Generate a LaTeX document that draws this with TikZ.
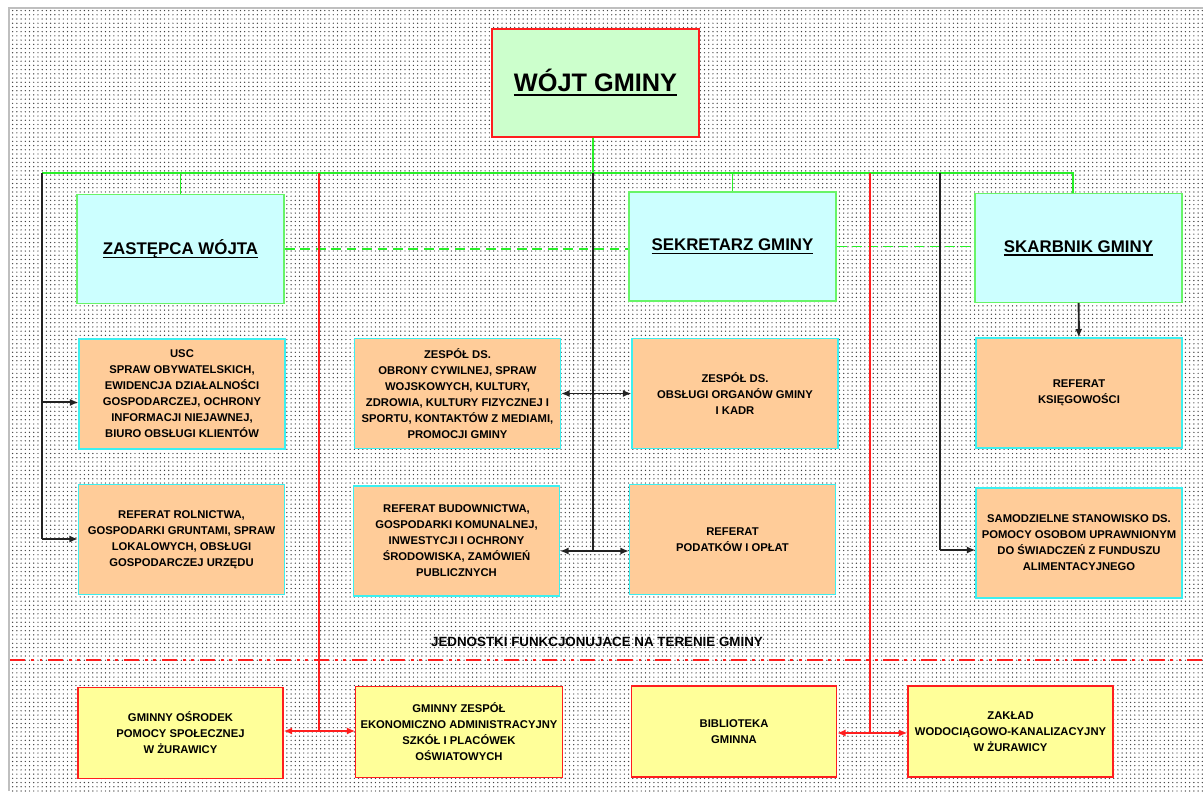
\documentclass[tikz,border=0pt]{standalone}
\usepackage{fontspec}
\setmainfont{Liberation Sans}
\usepackage{tikz}
\usepackage{xcolor}
\usetikzlibrary{shapes, positioning, patterns, arrows.meta}

\definecolor{treegreen}{RGB}{40,240,40}
\definecolor{headcyan}{RGB}{204,255,255}
\definecolor{wojtgreen}{RGB}{204,255,204}
\definecolor{unitorange}{RGB}{255,204,153}
\definecolor{unitedge}{RGB}{60,240,240}
\definecolor{extyellow}{RGB}{255,255,153}
\definecolor{linered}{RGB}{255,30,30}
\definecolor{darkline}{RGB}{34,34,34}

\newcommand{\headul}[3]{\setbox0\hbox{#1}\leavevmode\rlap{\copy0}\rule[-#2]{\wd0}{#3}}

\begin{document}
\begin{tikzpicture}[x=0.025cm, y=-0.025cm,
        head/.style={rectangle, draw=treegreen!70!white, fill=headcyan, line width=1pt,
            minimum width=5.175cm, minimum height=2.725cm, font=\bfseries\fontsize{12}{14}\selectfont},
        unit/.style={rectangle, draw=unitedge, fill=unitorange, line width=0.8pt, align=center,
            minimum width=5.15cm, minimum height=2.75cm, font=\bfseries\fontsize{8}{11.4}\selectfont},
        ext/.style={rectangle, draw=linered, fill=extyellow, line width=0.8pt, align=center,
            minimum width=5.125cm, minimum height=2.275cm, font=\bfseries\fontsize{8}{11.4}\selectfont},
        tree/.style={treegreen, line width=1.1pt},
        blk/.style={darkline, line width=1.4pt, >={Latex[length=6pt, width=5pt]}},
        redl/.style={linered, line width=1.4pt, >={Latex[length=6pt, width=5pt]}}]
        \useasboundingbox (0,0) rectangle (1203,791);
        % dotted sheet
        \fill[pattern=dots, pattern color=black!75] (10,9) rectangle (1203,791);
        \draw[black!25, line width=0.8pt] (9,791) -- (9,8) -- (1203,8);

        \node[rectangle, draw=linered, fill=wojtgreen, line width=0.9pt, minimum width=5.175cm,
            minimum height=2.7cm, font=\bfseries\fontsize{18}{20}\selectfont] (wojt) at (595.5, 83)
            {\headul{WÓJT GMINY}{3.2pt}{1.6pt}};

        \node[head] (zast) at (180.5, 249) {\headul{ZASTĘPCA WÓJTA}{2.6pt}{1.2pt}};
        \node[head] (sekr) at (732.5, 246.5) {\headul{SEKRETARZ GMINY}{2.6pt}{1.2pt}};
        \node[head] (skarb) at (1078.5, 248) {\headul{SKARBNIK GMINY}{2.6pt}{1.2pt}};

        \node[unit] (usc) at (182, 394) {USC\\SPRAW OBYWATELSKICH,\\EWIDENCJA DZIAŁALNOŚCI\\GOSPODARCZEJ, OCHRONY\\INFORMACJI NIEJAWNEJ,\\BIURO OBSŁUGI KLIENTÓW};
        \node[unit] (roln) at (181.5, 539.5) {REFERAT ROLNICTWA,\\GOSPODARKI GRUNTAMI, SPRAW\\LOKALOWYCH, OBSŁUGI\\GOSPODARCZEJ URZĘDU};
        \node[unit] (obrona) at (457.5, 393.5) {ZESPÓŁ DS.\\OBRONY CYWILNEJ, SPRAW\\WOJSKOWYCH, KULTURY,\\ZDROWIA, KULTURY FIZYCZNEJ I\\SPORTU, KONTAKTÓW Z MEDIAMI,\\PROMOCJI GMINY};
        \node[unit] (budown) at (456.5, 541) {REFERAT BUDOWNICTWA,\\GOSPODARKI KOMUNALNEJ,\\INWESTYCJI I OCHRONY\\ŚRODOWISKA, ZAMÓWIEŃ\\PUBLICZNYCH};
        \node[unit] (obsluga) at (735, 393.5) {ZESPÓŁ DS.\\OBSŁUGI ORGANÓW GMINY\\I KADR};
        \node[unit] (podatki) at (732.5, 539.5) {REFERAT\\PODATKÓW I OPŁAT};
        \node[unit] (ksieg) at (1079, 393) {REFERAT\\KSIĘGOWOŚCI};
        \node[unit] (samodz) at (1079, 543) {SAMODZIELNE STANOWISKO DS.\\POMOCY OSOBOM UPRAWNIONYM\\DO ŚWIADCZEŃ Z FUNDUSZU\\ALIMENTACYJNEGO};

        \node[ext] (gops) at (180.5, 733) {GMINNY OŚRODEK\\POMOCY SPOŁECZNEJ\\W ŻURAWICY};
        \node[ext] (gzeas) at (459, 732) {GMINNY ZESPÓŁ\\EKONOMICZNO ADMINISTRACYJNY\\SZKÓŁ I PLACÓWEK\\OŚWIATOWYCH};
        \node[ext] (biblio) at (734, 731.5) {BIBLIOTEKA\\GMINNA};
        \node[ext] (zaklad) at (1010.5, 731.5) {ZAKŁAD\\WODOCIĄGOWO-KANALIZACYJNY\\W ŻURAWICY};

        \node[font=\bfseries\fontsize{9.5}{11}\selectfont] (jednostki) at (597, 642) {JEDNOSTKI FUNKCJONUJACE NA TERENIE GMINY};
        \draw[linered, line width=1.3pt, dash pattern=on 11pt off 4pt on 2pt off 4pt on 2pt off 4pt] (10,660) -- (1203,660);

        \coordinate (busL) at (42, 173);
        \coordinate (busR) at (1073, 173);
        \coordinate (jl) at (42, 539);
        \coordinate (jc) at (593, 551);
        \coordinate (jr) at (940, 550);
        \coordinate (rl) at (319, 731);
        \coordinate (rr) at (870, 733);

        % green tree
        \draw[tree] (jc |- wojt.south) -- (jc |- busL)
            (busL) -- (busR) -- (busR |- skarb.north)
            (zast.north |- busL) -- (zast.north)
            (sekr.north |- busL) -- (sekr.north);
        \draw[tree, line width=1.3pt, dash pattern=on 7pt off 4pt] (zast.east) -- (zast.east -| sekr.west)
            (sekr.east) -- (sekr.east -| skarb.west);

        % black links
        \draw[blk] (busL) -- (jl)
            (jc |- busL) -- (jc)
            (jr |- busL) -- (jr);
        \draw[blk, ->] (jl) -- (jl -| roln.west);
        \draw[blk, ->] ([yshift=-6pt]busL |- usc.west) -- ([yshift=-6pt]usc.west);
        \draw[blk, <->] (obrona.east) -- (obsluga.west);
        \draw[blk, <->] (jc -| budown.east) -- (jc -| podatki.west);
        \draw[blk, ->] (jr) -- (jr -| samodz.west);
        \draw[blk, ->] (skarb) -- (ksieg);

        % red links
        \draw[redl] (rl |- busL) -- (rl)
            (rr |- busL) -- (rr);
        \draw[redl, <->] (rl -| gops.east) -- (rl -| gzeas.west);
        \draw[redl, <->] (rr -| biblio.east) -- (rr -| zaklad.west);
    \end{tikzpicture}
\end{document}
